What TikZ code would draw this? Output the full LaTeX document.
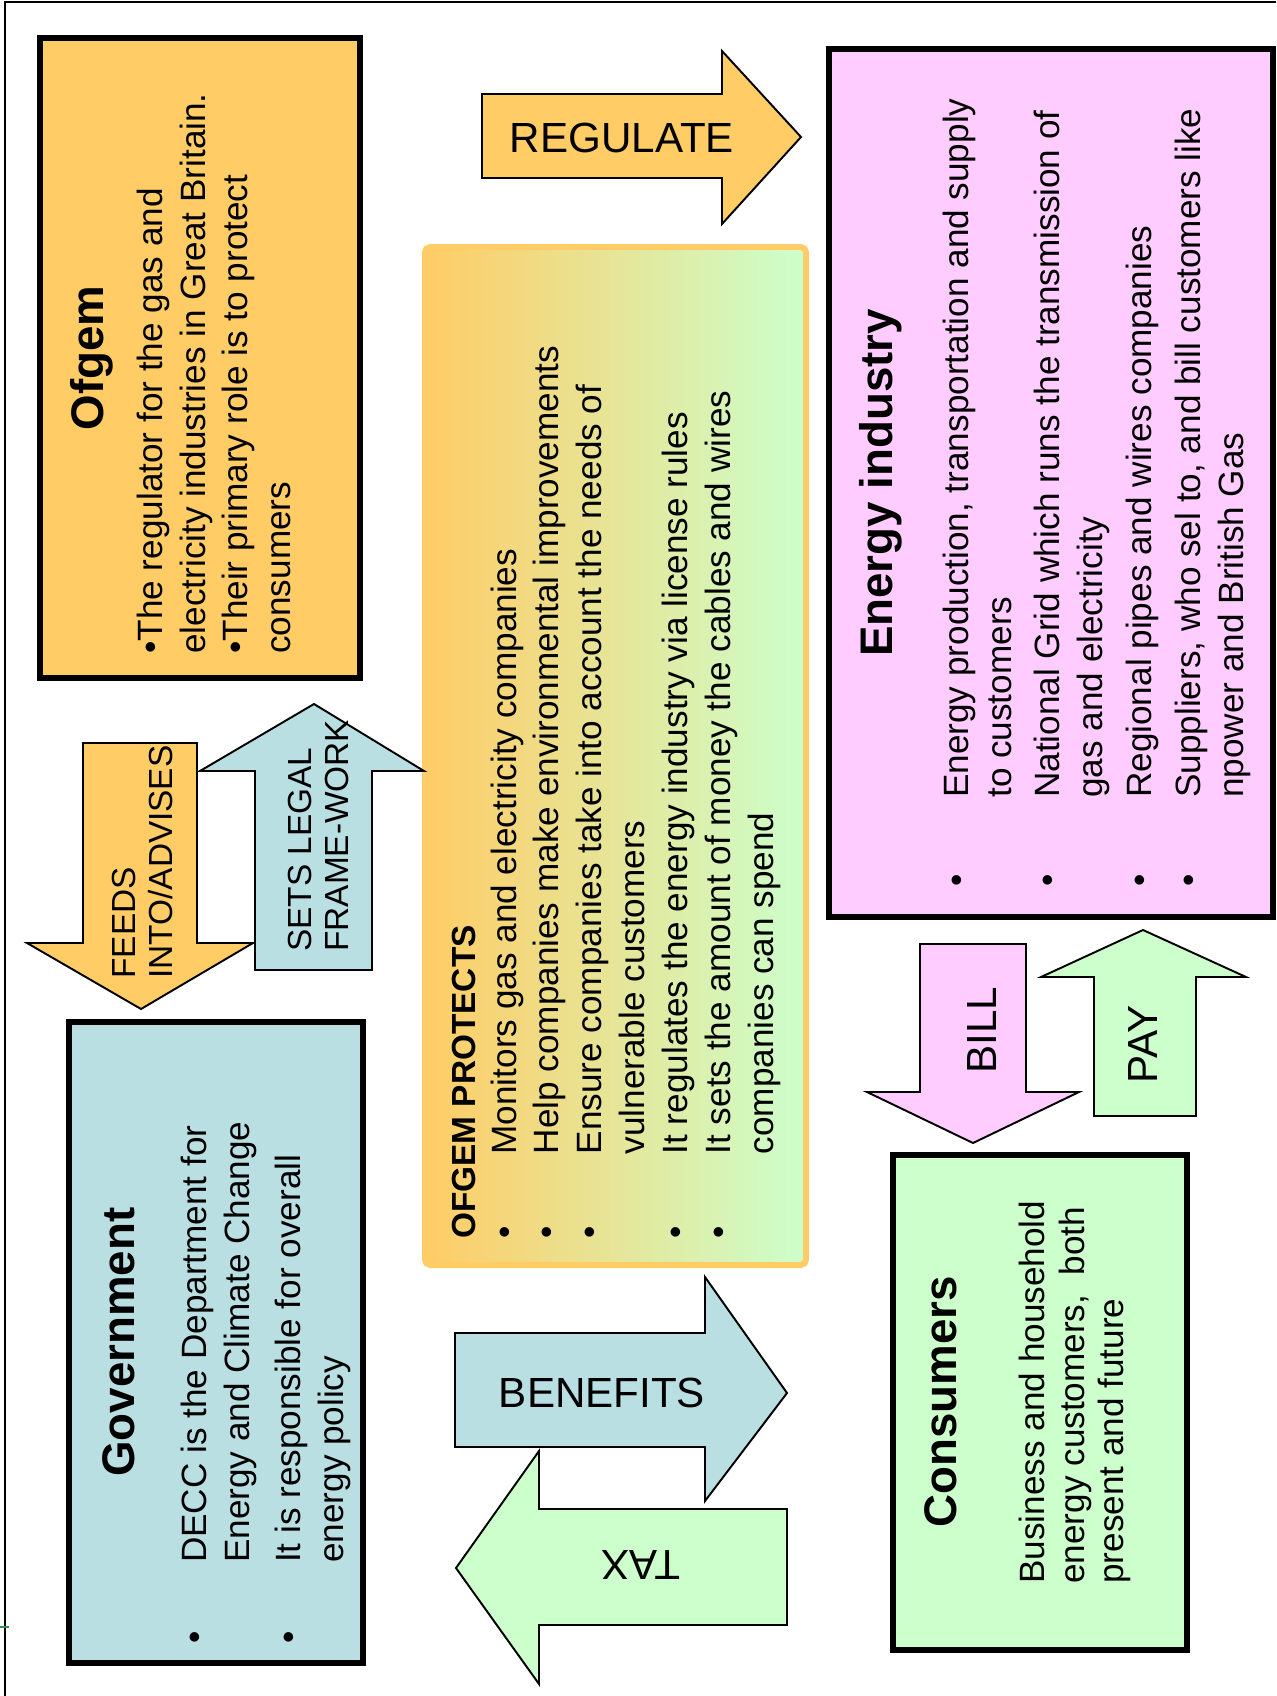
\documentclass[tikz,border=0pt]{standalone}
\usepackage{fontspec}
\setmainfont{Liberation Sans}
\usepackage{xcolor}
\usepackage{tikz}
\usetikzlibrary{positioning, fit, calc}
\definecolor{diagcolor0}{HTML}{FFCC66}
\definecolor{diagcolor1}{HTML}{B9DFE3}
\definecolor{diagcolor2}{HTML}{FFCCFF}
\definecolor{diagcolor3}{HTML}{CCFFCC}
\definecolor{diagcolor4}{HTML}{000000}
\definecolor{diagcolor5}{HTML}{3C8C5A}
\tikzset{
  box_default/.style={draw=diagcolor4, line width=3pt, inner sep=0pt},
  box_orange/.style={box_default, fill=diagcolor0},
  box_blue/.style={box_default, fill=diagcolor1},
  box_pink/.style={box_default, fill=diagcolor2},
  box_green/.style={box_default, fill=diagcolor3},
  box_protects/.style={draw=diagcolor0, line width=3.4pt, rounded corners=3pt, left color=diagcolor0, right color=diagcolor3, inner sep=0pt},
  box_title/.style={rotate=90, inner sep=0pt, font=\bfseries\fontsize{26}{30}\selectfont},
  box_line/.style={rotate=90, anchor=north west, inner sep=0pt, font=\fontsize{20}{24}\selectfont, text height=17pt, text depth=7pt},
  arrow_block/.style={draw=diagcolor4, line width=1.1pt, line join=miter},
  arrow_orange/.style={arrow_block, fill=diagcolor0},
  arrow_blue/.style={arrow_block, fill=diagcolor1},
  arrow_pink/.style={arrow_block, fill=diagcolor2},
  arrow_green/.style={arrow_block, fill=diagcolor3},
  arrow_label/.style={inner sep=0pt, font=\fontsize{24}{28}\selectfont},
  arrow_line/.style={rotate=90, anchor=north west, inner sep=0pt, font=\fontsize{19}{21}\selectfont, text height=14pt, text depth=6.5pt},
  frame_line/.style={draw=diagcolor4, line width=0.6pt}
}
\begin{document}
\begin{tikzpicture}[x=0.02cm, y=-0.02cm]
\useasboundingbox (0,0) rectangle (1276,1696);
\draw[frame_line] (5,1696) -- (5,2) -- (1276,2);
\draw[draw=diagcolor5, line width=0.8pt] (0,1627) -- (9,1627);
% boxes
\node[box_orange, fit={(40,38) (360,678)}] (ofgem_box) {};
\node[box_blue, fit={(69,1022) (363,1663)}] (gov_box) {};
\node[box_pink, fit={(829,49) (1273,917)}] (energy_box) {};
\node[box_green, fit={(893,1155) (1187,1650)}] (consumer_box) {};
\node[box_protects, fit={(425,247) (806,1265)}] (protects_box) {};
% arrows
\draw[arrow_orange] (482,94) -- (722,94) -- (722,51) -- (801,137) -- (722,224) -- (722,178) -- (482,178) -- cycle;
\node[arrow_label] (regulate_label) at (622,138) {REGULATE};
\draw[arrow_blue] (455,1333) -- (705,1333) -- (705,1277) -- (787,1393) -- (705,1501) -- (705,1447) -- (455,1447) -- cycle;
\node[arrow_label] (benefits_label) at (602,1393) {BENEFITS};
\draw[arrow_green] (787,1509) -- (539,1509) -- (539,1451) -- (456,1568) -- (539,1684) -- (539,1625) -- (787,1625) -- cycle;
\node[arrow_label, rotate=180] (tax_label) at (641,1565) {TAX};
\draw[arrow_orange] (83,743) -- (197,743) -- (197,943) -- (253,943) -- (141,1009) -- (27,943) -- (83,943) -- cycle;
\node[arrow_line] (feeds_line_0) at (111,979) {FEEDS};
\node[arrow_line] (feeds_line_1) at (feeds_line_0.south west) {INTO/ADVISES};
\draw[arrow_blue] (255,970) -- (255,771) -- (200,771) -- (314,704) -- (424,771) -- (372,771) -- (372,970) -- cycle;
\node[arrow_line] (sets_line_0) at (287,952) {SETS LEGAL};
\node[arrow_line] (sets_line_1) at (sets_line_0.south west) {FRAME-WORK};
\draw[arrow_pink] (920,944) -- (1026,944) -- (1026,1092) -- (1079,1092) -- (973,1143) -- (867,1092) -- (920,1092) -- cycle;
\node[arrow_label, rotate=90] (bill_label) at (982,1030) {BILL};
\draw[arrow_green] (1094,1116) -- (1094,977) -- (1041,977) -- (1143,930) -- (1246,977) -- (1196,977) -- (1196,1116) -- cycle;
\node[arrow_label, rotate=90] (pay_label) at (1143,1044) {PAY};
% ofgem
\node[box_title] (ofgem_title) at (92,358) {Ofgem};
\node[box_line] (ofgem_line_0) at (132,654) {\textbullet The regulator for the gas and};
\node[box_line] (ofgem_line_1) at (ofgem_line_0.south west) {electricity industries in Great Britain.};
\node[box_line] (ofgem_line_2) at (ofgem_line_1.south west) {\textbullet Their primary role is to protect};
\node[box_line] (ofgem_line_3) at (ofgem_line_2.south west) {consumers};
% government
\node[box_title] (gov_title) at (119,1342) {Government};
\node[box_line] (gov_line_0) at (176,1644) {\makebox[46pt][l]{\textbullet}DECC is the Department for};
\node[box_line] (gov_line_1) at (gov_line_0.south west) {\hspace*{46pt}Energy and Climate Change};
\node[box_line] (gov_line_2) at ($(gov_line_1.south west) + (9,0)$) {\makebox[46pt][l]{\textbullet}It is responsible for overall};
\node[box_line] (gov_line_3) at (gov_line_2.south west) {\hspace*{46pt}energy policy};
% energy industry
\node[box_title] (energy_title) at (881,483) {Energy industry};
\node[box_line] (energy_line_0) at (938,887) {\makebox[50.6pt][l]{\textbullet}Energy production, transportation and supply};
\node[box_line] (energy_line_1) at (energy_line_0.south west) {\hspace*{50.6pt}to customers};
\node[box_line] (energy_line_2) at ($(energy_line_1.south west) + (6,0)$) {\makebox[50.6pt][l]{\textbullet}National Grid which runs the transmission of};
\node[box_line] (energy_line_3) at (energy_line_2.south west) {\hspace*{50.6pt}gas and electricity};
\node[box_line] (energy_line_4) at ($(energy_line_3.south west) + (6,0)$) {\makebox[50.6pt][l]{\textbullet}Regional pipes and wires companies};
\node[box_line] (energy_line_5) at ($(energy_line_4.south west) + (6,0)$) {\makebox[50.6pt][l]{\textbullet}Suppliers, who sel to, and bill customers like};
\node[box_line] (energy_line_6) at (energy_line_5.south west) {\hspace*{50.6pt}npower and British Gas};
% consumers
\node[box_title] (consumer_title) at (941,1402) {Consumers};
\node[box_line] (consumer_line_0) at (1014,1584) {Business and household};
\node[box_line] (consumer_line_1) at ($(consumer_line_0.south west) + (-3,0)$) {energy customers,\ \ both};
\node[box_line] (consumer_line_2) at ($(consumer_line_1.south west) + (-3,0)$) {present and future};
% ofgem protects
\node[box_line, font=\bfseries\fontsize{19}{24}\selectfont] (protects_title) at (445,1239) {OFGEM PROTECTS};
\node[box_line] (protects_line_0) at ($(protects_title.south west) + (-2,0)$) {\makebox[48pt][l]{\textbullet}Monitors gas and electricity companies};
\node[box_line] (protects_line_1) at (protects_line_0.south west) {\makebox[48pt][l]{\textbullet}Help companies make environmental improvements};
\node[box_line] (protects_line_2) at (protects_line_1.south west) {\makebox[48pt][l]{\textbullet}Ensure companies take into account the needs of};
\node[box_line] (protects_line_3) at (protects_line_2.south west) {\hspace*{48pt}vulnerable customers};
\node[box_line] (protects_line_4) at (protects_line_3.south west) {\makebox[48pt][l]{\textbullet}It regulates the energy industry via license rules};
\node[box_line] (protects_line_5) at (protects_line_4.south west) {\makebox[48pt][l]{\textbullet}It sets the amount of money the cables and wires};
\node[box_line] (protects_line_6) at (protects_line_5.south west) {\hspace*{48pt}companies can spend};
\end{tikzpicture}
\end{document}
